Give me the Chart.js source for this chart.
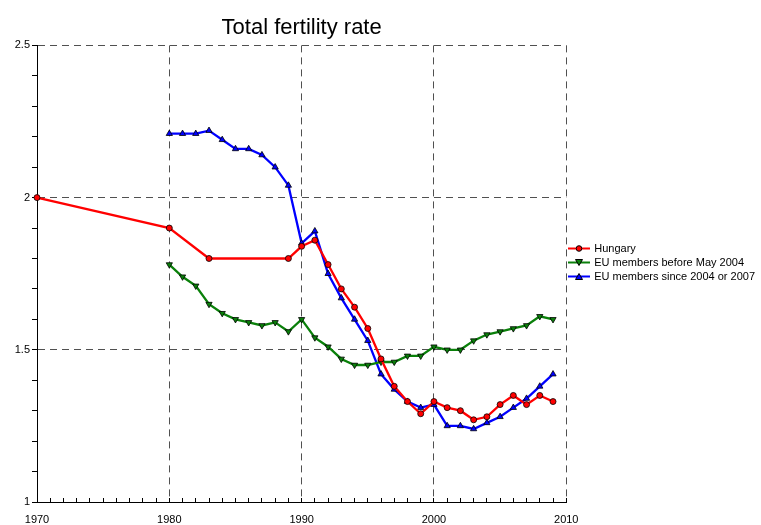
<!DOCTYPE html>
<html lang="en">
<head>
  <meta charset="UTF-8">
  <title>Total fertility rate</title>
  <script src="https://cdn.jsdelivr.net/npm/chart.js"></script>
  <style>
    body { margin: 0; background: #fff; }
    #wrap { width: 761px; height: 525px; }
  </style>
</head>
<body>
  <div id="wrap">
    <canvas id="tfr" width="761" height="525"></canvas>
  </div>
  <script>
    // data
    const hungaryYears = [1970, 1980, 1983, 1989, 1990, 1991, 1992, 1993, 1994, 1995, 1996, 1997, 1998, 1999,
      2000, 2001, 2002, 2003, 2004, 2005, 2006, 2007, 2008, 2009];
    const hungary = [2.00, 1.90, 1.80, 1.80, 1.84, 1.86, 1.78, 1.70, 1.64, 1.57, 1.47, 1.38, 1.33, 1.29,
      1.33, 1.31, 1.30, 1.27, 1.28, 1.32, 1.35, 1.32, 1.35, 1.33];

    const euYears = [1980, 1981, 1982, 1983, 1984, 1985, 1986, 1987, 1988, 1989, 1990, 1991, 1992, 1993, 1994,
      1995, 1996, 1997, 1998, 1999, 2000, 2001, 2002, 2003, 2004, 2005, 2006, 2007, 2008, 2009];
    const euBefore2004 = [1.78, 1.74, 1.71, 1.65, 1.62, 1.60, 1.59, 1.58, 1.59, 1.56, 1.60, 1.54, 1.51, 1.47, 1.45,
      1.45, 1.46, 1.46, 1.48, 1.48, 1.51, 1.50, 1.50, 1.53, 1.55, 1.56, 1.57, 1.58, 1.61, 1.60];
    const euSince2004 = [2.21, 2.21, 2.21, 2.22, 2.19, 2.16, 2.16, 2.14, 2.10, 2.04, 1.85, 1.89, 1.75, 1.67, 1.60,
      1.53, 1.42, 1.37, 1.33, 1.31, 1.32, 1.25, 1.25, 1.24, 1.26, 1.28, 1.31, 1.34, 1.38, 1.42];

    const seriesNames = ["Hungary", "EU members before May 2004", "EU members since 2004 or 2007"];
    const seriesColors = ["#ff0000", "#0a800a", "#0000ff"];
    const seriesMarkers = ["circle", "triangle", "triangle"];
    const markerRotation = [0, 180, 0];

    const yLabels = [1, 1.5, 2, 2.5];
    const xLabels = [1970, 1980, 1990, 2000, 2010];

    const FONT = "'Liberation Sans', Arial, sans-serif";
    const GRID = "#505050";

    function pairs(xs, ys) {
      return xs.map((x, i) => ({ x: x, y: ys[i] }));
    }

    // little line + marker picture for the legend
    function legendIcon(i) {
      const c = document.createElement("canvas");
      c.width = 22;
      c.height = 11;
      const g = c.getContext("2d");
      g.strokeStyle = seriesColors[i];
      g.lineWidth = 2;
      g.beginPath();
      g.moveTo(0, 5.5);
      g.lineTo(22, 5.5);
      g.stroke();
      g.fillStyle = seriesColors[i];
      g.strokeStyle = "#000";
      g.lineWidth = 1;
      g.beginPath();
      if (seriesMarkers[i] === "circle") {
        g.arc(11, 5.5, 2.8, 0, Math.PI * 2);
      } else if (markerRotation[i] === 180) {
        g.moveTo(7.5, 2.5); g.lineTo(14.5, 2.5); g.lineTo(11, 8.5); g.closePath();
      } else {
        g.moveTo(7.5, 8.5); g.lineTo(14.5, 8.5); g.lineTo(11, 2.5); g.closePath();
      }
      g.fill();
      g.stroke();
      return c;
    }

    const datasets = [
      pairs(hungaryYears, hungary),
      pairs(euYears, euBefore2004),
      pairs(euYears, euSince2004)
    ].map((d, i) => ({
      label: seriesNames[i],
      data: d,
      borderColor: seriesColors[i],
      backgroundColor: seriesColors[i],
      borderWidth: 2.3,
      pointStyle: seriesMarkers[i],
      rotation: markerRotation[i],
      pointRadius: i === 0 ? 3 : 3.6,
      pointBorderColor: "#000",
      pointBorderWidth: 0.8,
      pointBackgroundColor: seriesColors[i],
      tension: 0,
      fill: false,
      clip: false
    }));

    const isMajorY = v => yLabels.some(l => Math.abs(l - v) < 1e-6);
    const isMajorX = v => xLabels.includes(Math.round(v)) && Math.abs(v - Math.round(v)) < 1e-6;

    new Chart(document.getElementById("tfr"), {
      type: "line",
      data: { datasets: datasets },
      options: {
        responsive: false,
        animation: false,
        // legend box is capped at half the free width, so the right padding sets where the plot ends
        layout: { padding: { left: 0, right: 6, top: 0, bottom: 0 } },
        plugins: {
          title: {
            display: true,
            fullSize: false,
            text: "Total fertility rate",
            color: "#000",
            font: { family: FONT, size: 22, weight: "normal" },
            padding: { top: 15, bottom: 4 }
          },
          legend: {
            position: "right",
            align: "center",
            labels: {
              usePointStyle: true,
              pointStyleWidth: 19.5,
              padding: 3,
              color: "#000",
              font: { family: FONT, size: 11 },
              generateLabels: chart => chart.data.datasets.map((ds, i) => ({
                text: ds.label,
                pointStyle: legendIcon(i),
                fillStyle: ds.borderColor,
                strokeStyle: ds.borderColor,
                lineWidth: 0,
                datasetIndex: i
              }))
            }
          },
          tooltip: { enabled: false }
        },
        scales: {
          x: {
            type: "linear",
            min: 1970,
            max: 2010,
            afterFit: s => { s.height = 23; },
            ticks: {
              stepSize: 1,
              autoSkip: false,
              maxRotation: 0,
              padding: 15,
              color: "#000",
              font: { family: FONT, size: 11 },
              callback: v => isMajorX(v) ? String(Math.round(v)) : ""
            },
            grid: {
              drawTicks: true,
              tickLength: -4,
              tickColor: "#000",
              color: ctx => (ctx.tick && isMajorX(ctx.tick.value) && ctx.tick.value > 1970) ? GRID : "rgba(0,0,0,0)",
              lineWidth: 1
            },
            border: { display: true, color: "#000", width: 1, dash: [7, 5] }
          },
          y: {
            min: 1,
            max: 2.5,
            afterFit: s => { s.width = 37; },
            ticks: {
              stepSize: 0.1,
              autoSkip: false,
              padding: 2,
              color: "#000",
              font: { family: FONT, size: 11 },
              callback: v => isMajorY(v) ? String(Math.round(v * 10) / 10) : ""
            },
            grid: {
              drawTicks: true,
              tickLength: 5,
              tickColor: "#000",
              color: ctx => (ctx.tick && isMajorY(ctx.tick.value) && ctx.tick.value > 1.01) ? GRID : "rgba(0,0,0,0)",
              lineWidth: 1
            },
            border: { display: true, color: "#000", width: 1, dash: [7, 5] }
          }
        }
      }
    });
  </script>
</body>
</html>
